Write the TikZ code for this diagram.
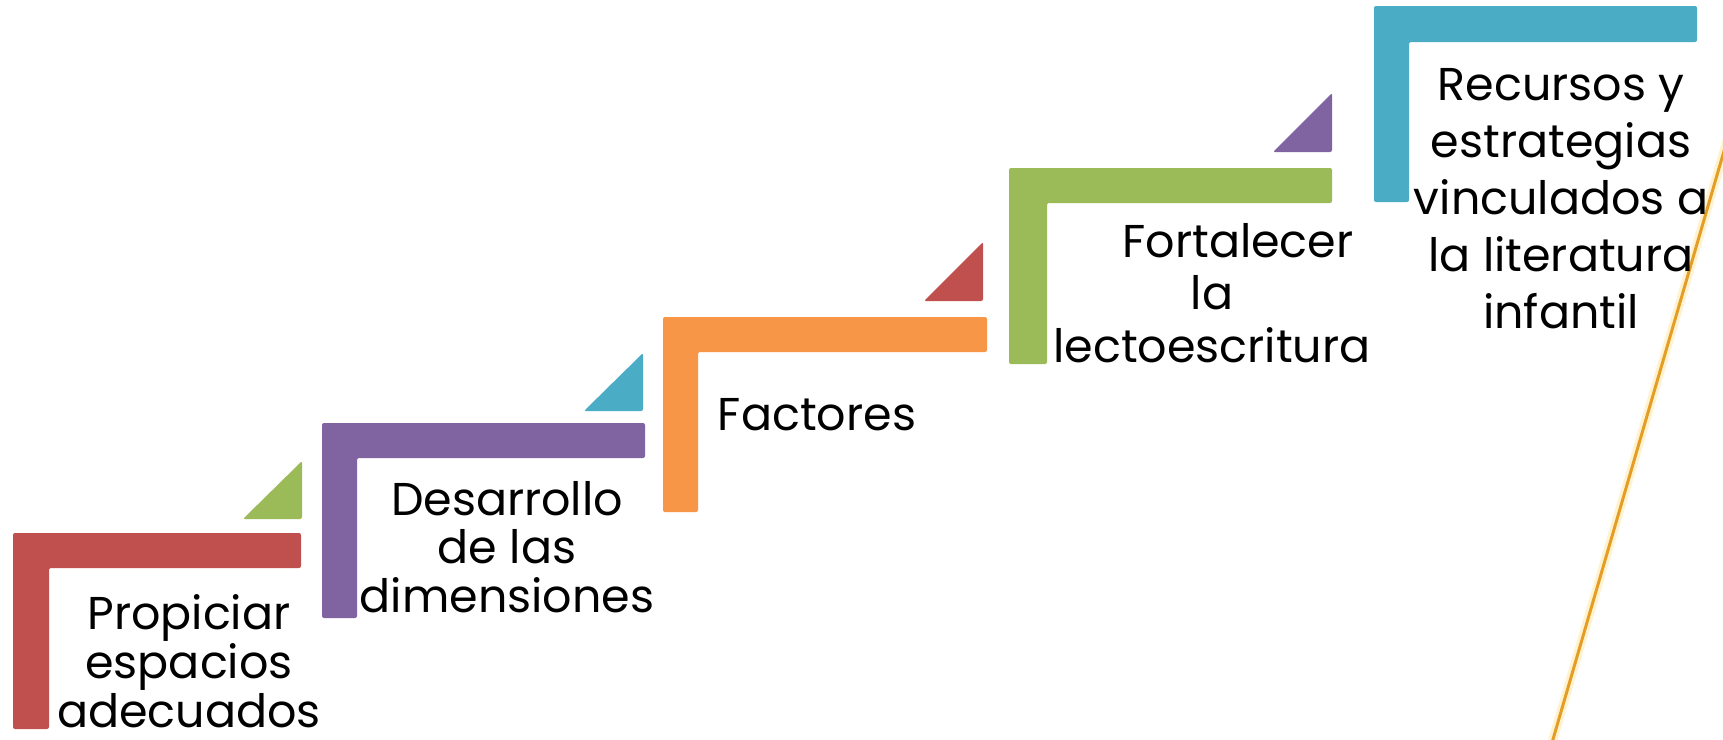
\documentclass[tikz,border=0pt]{standalone}
\usepackage{fontspec}
\setmainfont{Poppins}
\definecolor{cRed}{RGB}{192,80,77}
\definecolor{cGreen}{RGB}{155,187,89}
\definecolor{cPurple}{RGB}{128,100,162}
\definecolor{cTeal}{RGB}{75,172,198}
\definecolor{cOrange}{RGB}{247,150,70}
\definecolor{cGold}{RGB}{228,158,40}
\definecolor{cGlow}{RGB}{255,232,160}
\tikzset{
  stepshape/.style={fill=#1, draw=none, rounded corners=2pt},
  arrowtri/.style={fill=#1, draw=none, rounded corners=2pt},
  steptext/.style={anchor=base, inner sep=0pt, align=center, text=black,
    font=\fontsize{46}{#1}\selectfont},
}
\begin{document}
\begin{tikzpicture}[x=1pt,y=-1pt]
\useasboundingbox (0,0) rectangle (1723,739);
\fill[white] (0,0) rectangle (1723,739);
\begin{scope}
\clip (0,0) rectangle (1723,739);
% gold diagonal line
\coordinate (gA) at (1740,96);
\coordinate (gB) at (1540,784);
\draw[cGlow, line width=9pt, opacity=0.5] (gA) -- (gB);
\draw[cGold, line width=3pt] (gA) -- (gB);

% step 1 (red)
\fill[stepshape=cRed] (13,533) -- (301,533) -- (301,568) -- (49,568) -- (49,729) -- (13,729) -- cycle;
% step 2 (purple)
\fill[stepshape=cPurple] (322,423) -- (645,423) -- (645,458) -- (357,458) -- (357,618) -- (322,618) -- cycle;
% step 3 (orange)
\fill[stepshape=cOrange] (663,317) -- (987,317) -- (987,352) -- (698,352) -- (698,512) -- (663,512) -- cycle;
% step 4 (green)
\fill[stepshape=cGreen] (1009,168) -- (1332,168) -- (1332,203) -- (1047,203) -- (1047,364) -- (1009,364) -- cycle;
% step 5 (teal)
\fill[stepshape=cTeal] (1374,6) -- (1697,6) -- (1697,42) -- (1409,42) -- (1409,202) -- (1374,202) -- cycle;

% triangles
\fill[arrowtri=cGreen] (243,519) -- (302,519) -- (302,461) -- cycle;
\fill[arrowtri=cTeal] (584,411) -- (643,411) -- (643,353) -- cycle;
\fill[arrowtri=cRed] (924,301) -- (983,301) -- (983,242) -- cycle;
\fill[arrowtri=cPurple] (1273,152) -- (1332,152) -- (1332,93) -- cycle;

% texts (anchored at the baseline of the last line)
\node[steptext=49] (t1) at (189,727) {Propiciar\\espacios\\adecuados};
\node[steptext=48.5] (t2) at (507,612) {Desarrollo\\de las\\dimensiones};
\node[steptext=49] (t3) at (817,430) {Factores};
\node[steptext=52.5] (t4) at (1212,362) {\hspace*{52pt}Fortalecer\\la\\lectoescritura};
\node[steptext=57] (t5) at (1561,328) {Recursos y\\estrategias\\vinculados a\\la literatura\\infantil};
\end{scope}
\end{tikzpicture}
\end{document}
